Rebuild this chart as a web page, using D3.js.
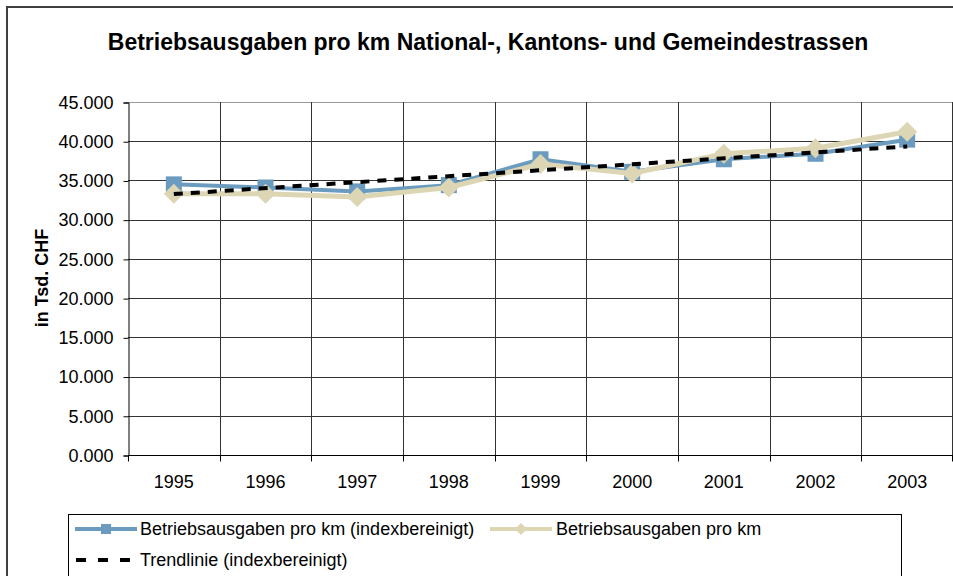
<!DOCTYPE html>
<html>
<head>
    <style>
        body { margin: 0; background: #fff; }
        svg { font-family: "Liberation Sans", Arial, sans-serif; }
        .title { font-size: 23px; font-weight: bold; text-anchor: middle; }
        .axis text { font-size: 18px; fill: #000; }
        .ytitle { font-size: 18px; font-weight: bold; text-anchor: middle; }
        .legend text { font-size: 18px; }
    </style>
    <script src="https://d3js.org/d3.v7.min.js"></script>
</head>
<body>
    <svg width="953" height="576"></svg>
    <script>
    // values in thousands CHF
    var years = ["1995", "1996", "1997", "1998", "1999", "2000", "2001", "2002", "2003"];
    var indexed = [34.5, 34.1, 33.6, 34.4, 37.7, 36.1, 37.7, 38.4, 40.2];
    var nominal = [33.3, 33.3, 32.9, 34.1, 37.1, 35.9, 38.4, 39.1, 41.2];
    var yTicks = [0, 5, 10, 15, 20, 25, 30, 35, 40, 45];
    var seriesNames = ["Betriebsausgaben pro km (indexbereinigt)", "Betriebsausgaben pro km", "Trendlinie (indexbereinigt)"];

    function lineChart() {
        var svg = d3.select("svg");
        var left = 128, right = 953, top = 102, bottom = 455;

        var x = d3.scaleBand().domain(years).range([left, right]);
        var y = d3.scaleLinear().domain([0, 45]).range([bottom, top]);
        var fmt = d3.format(".3f");

        // outer chart frame
        svg.append("path")
           .attr("d", "M7,576V7H953")
           .attr("fill", "none")
           .attr("stroke", "#404040")
           .attr("stroke-width", 2);

        svg.append("text")
           .attr("class", "title")
           .attr("x", 488)
           .attr("y", 50)
           .text("Betriebsausgaben pro km National-, Kantons- und Gemeindestrassen");

        // grid
        svg.append("g").selectAll("line")
           .data(yTicks)
           .enter().append("line")
           .attr("x1", left).attr("x2", right)
           .attr("y1", function(d) { return Math.round(y(d)) + 0.5; })
           .attr("y2", function(d) { return Math.round(y(d)) + 0.5; })
           .attr("stroke", function(d) { return d == 45 ? "#999" : "#333"; });

        svg.append("g").selectAll("line")
           .data(years.slice(1).concat(["end"]))
           .enter().append("line")
           .attr("x1", function(d) { return Math.round(d == "end" ? right - 1 : x(d)) + 0.5; })
           .attr("x2", function(d) { return Math.round(d == "end" ? right - 1 : x(d)) + 0.5; })
           .attr("y1", top).attr("y2", bottom)
           .attr("stroke", "#333");

        // y axis
        var yAxis = svg.append("g")
           .attr("class", "axis")
           .attr("transform", "translate(" + (left + 0.5) + ",0.5)")
           .call(d3.axisLeft(y).tickValues(yTicks).tickFormat(fmt).tickSize(5).tickPadding(10));
        yAxis.select(".domain").attr("stroke", "#000");
        yAxis.selectAll("text").attr("font-family", null).attr("font-size", null);

        // x axis: ticks sit on category boundaries
        var xAxis = svg.append("g")
           .attr("class", "axis")
           .attr("transform", "translate(0," + (bottom + 0.5) + ")");
        xAxis.append("line")
           .attr("x1", left).attr("x2", right)
           .attr("stroke", "#000");
        xAxis.selectAll(".tk")
           .data(years.concat(["end"]))
           .enter().append("line")
           .attr("x1", function(d) { return Math.round(d == "end" ? right - 1 : x(d)) + 0.5; })
           .attr("x2", function(d) { return Math.round(d == "end" ? right - 1 : x(d)) + 0.5; })
           .attr("y1", 0).attr("y2", 6)
           .attr("stroke", "#000");
        xAxis.selectAll("text")
           .data(years)
           .enter().append("text")
           .attr("x", function(d) { return x(d) + x.bandwidth() / 2; })
           .attr("y", 32)
           .attr("text-anchor", "middle")
           .text(function(d) { return d; });

        svg.append("text")
           .attr("class", "ytitle")
           .attr("transform", "translate(48,278) rotate(-90)")
           .text("in Tsd. CHF");

        var cx = function(d, i) { return x(years[i]) + x.bandwidth() / 2; };
        var line = d3.line().x(cx).y(function(d) { return y(d); });

        // indexed series
        svg.append("path")
           .datum(indexed)
           .attr("d", line)
           .attr("fill", "none")
           .attr("stroke", "#6B9BBE")
           .attr("stroke-width", 4);
        svg.append("g").selectAll("rect")
           .data(indexed)
           .enter().append("rect")
           .attr("x", function(d, i) { return cx(d, i) - 8; })
           .attr("y", function(d) { return y(d) - 8; })
           .attr("width", 16).attr("height", 16)
           .attr("fill", "#6B9BBE");

        // nominal series
        svg.append("path")
           .datum(nominal)
           .attr("d", line)
           .attr("fill", "none")
           .attr("stroke", "#DCD6B4")
           .attr("stroke-width", 5);
        var diamond = "M0,-10L10,0L0,10L-10,0Z";
        svg.append("g").selectAll("path")
           .data(nominal)
           .enter().append("path")
           .attr("d", diamond)
           .attr("transform", function(d, i) { return "translate(" + cx(d, i) + "," + y(d) + ")"; })
           .attr("fill", "#DCD6B4");

        // linear trend of the indexed series
        var n = indexed.length;
        var mx = (n - 1) / 2, my = d3.mean(indexed);
        var sxy = d3.sum(indexed, function(d, i) { return (i - mx) * (d - my); });
        var sxx = d3.sum(indexed, function(d, i) { return (i - mx) * (i - mx); });
        var slope = sxy / sxx;
        var trend = [my - slope * mx, my + slope * mx];
        svg.append("line")
           .attr("x1", cx(0, 0)).attr("x2", cx(0, n - 1))
           .attr("y1", y(trend[0])).attr("y2", y(trend[1]))
           .attr("stroke", "#000")
           .attr("stroke-width", 4)
           .attr("stroke-dasharray", "9,8");

        // legend
        var lg = svg.append("g").attr("class", "legend");
        lg.append("rect")
           .attr("x", 68.5).attr("y", 514.5)
           .attr("width", 833).attr("height", 80)
           .attr("fill", "#fff")
           .attr("stroke", "#000");

        lg.append("line")
           .attr("x1", 75).attr("x2", 137).attr("y1", 529).attr("y2", 529)
           .attr("stroke", "#6B9BBE").attr("stroke-width", 4);
        lg.append("rect")
           .attr("x", 101).attr("y", 524).attr("width", 10).attr("height", 10)
           .attr("fill", "#6B9BBE");
        lg.append("text").attr("x", 140).attr("y", 535).text(seriesNames[0]);

        lg.append("line")
           .attr("x1", 490).attr("x2", 552).attr("y1", 529).attr("y2", 529)
           .attr("stroke", "#DCD6B4").attr("stroke-width", 4);
        lg.append("path")
           .attr("d", "M0,-6L6,0L0,6L-6,0Z")
           .attr("transform", "translate(521,529)")
           .attr("fill", "#DCD6B4");
        lg.append("text").attr("x", 556).attr("y", 535).text(seriesNames[1]);

        lg.append("line")
           .attr("x1", 76).attr("x2", 138).attr("y1", 560).attr("y2", 560)
           .attr("stroke", "#000").attr("stroke-width", 4)
           .attr("stroke-dasharray", "10,12");
        lg.append("text").attr("x", 140).attr("y", 566).text(seriesNames[2]);
    }
    lineChart();
    </script>
</body>
</html>
